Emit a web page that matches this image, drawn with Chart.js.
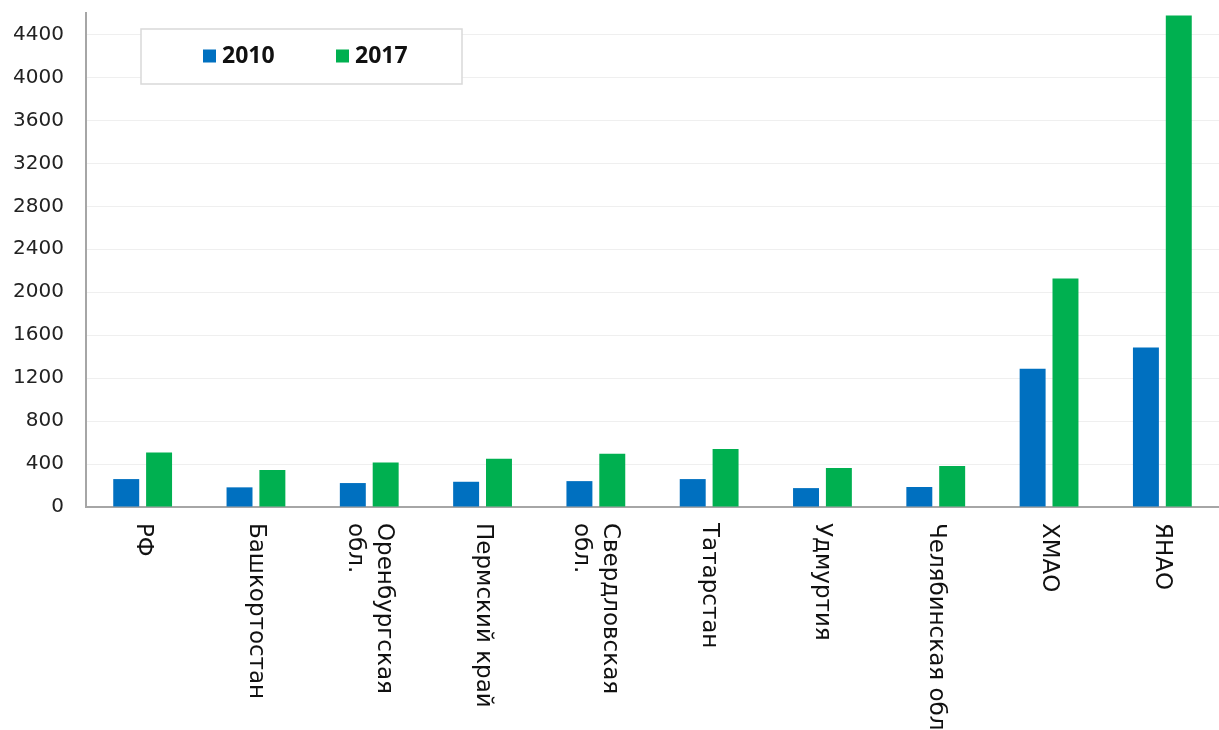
<!DOCTYPE html>
<html>
<head>
<meta charset="utf-8">
<script src="https://cdn.jsdelivr.net/npm/chart.js@4"></script>
<style>
  body { margin: 0; background: #fff; }
  #wrap { width: 1219px; height: 730px; position: relative; }
</style>
</head>
<body>
<div id="wrap"><canvas id="grafico"></canvas></div>
<script>
const categories = ['РФ', 'Башкортостан', ['Оренбургская', 'обл.'], 'Пермский край', ['Свердловская', 'обл.'], 'Татарстан', 'Удмуртия', 'Челябинская обл.', 'ХМАО', 'ЯНАО'];
const seriesNames = ['2010', '2017'];
const values2010 = [260, 183, 223, 235, 241, 260, 176, 186, 1288, 1486];
const values2017 = [508, 344, 415, 449, 495, 539, 362, 381, 2127, 4577];
const yTicks = [0, 400, 800, 1200, 1600, 2000, 2400, 2800, 3200, 3600, 4000, 4400];
const yMax = 4600;

const colors = ['#0070C0', '#00B050'];

// x labels are rotated clockwise (read top to bottom), so draw them by hand
const rotatedLabels = {
  id: 'rotatedLabels',
  afterDraw(chart) {
    const ctx = chart.ctx;
    const xs = chart.scales.x;
    const top = chart.chartArea.bottom + 16;
    const lh = 29;
    ctx.save();
    ctx.font = '23px "DejaVu Sans", sans-serif';
    ctx.fillStyle = '#111';
    ctx.textAlign = 'left';
    ctx.textBaseline = 'middle';
    categories.forEach((lab, i) => {
      const lines = Array.isArray(lab) ? lab : [lab];
      const x = xs.getPixelForValue(i);
      ctx.save();
      ctx.translate(x, top);
      ctx.rotate(Math.PI / 2);
      lines.forEach((ln, j) => {
        ctx.fillText(ln, 0, (j - (lines.length - 1) / 2) * lh);
      });
      ctx.restore();
    });
    ctx.restore();
  }
};

// boxed legend inside the plot
const boxLegend = {
  id: 'boxLegend',
  afterDraw(chart) {
    const ctx = chart.ctx;
    const a = chart.chartArea;
    const bx = a.left + 55, by = a.top + 16, bw = 321, bh = 55;
    ctx.save();
    ctx.fillStyle = '#fff';
    ctx.fillRect(bx, by, bw, bh);
    ctx.strokeStyle = '#d9d9d9';
    ctx.lineWidth = 1.5;
    ctx.strokeRect(bx, by, bw, bh);
    ctx.font = 'bold 23px "Open Sans", "DejaVu Sans", sans-serif';
    ctx.textBaseline = 'middle';
    const cy = by + bh / 2;
    const starts = [bx + 62, bx + 195];
    chart.data.datasets.forEach((ds, i) => {
      ctx.fillStyle = ds.backgroundColor;
      ctx.fillRect(starts[i], cy - 7, 13, 13);
      ctx.fillStyle = '#111';
      ctx.fillText(ds.label, starts[i] + 19, cy);
    });
    ctx.restore();
  }
};

new Chart(document.getElementById('grafico'), {
  type: 'bar',
  data: {
    labels: categories,
    datasets: [
      { label: seriesNames[0], data: values2010, backgroundColor: colors[0], borderWidth: 0 },
      { label: seriesNames[1], data: values2017, backgroundColor: colors[1], borderWidth: 0 }
    ]
  },
  options: {
    responsive: true,
    maintainAspectRatio: false,
    animation: false,
    layout: { padding: { left: 10, right: 0, top: 13, bottom: 223 } },
    datasets: {
      bar: { categoryPercentage: 0.58, barPercentage: 0.79 }
    },
    plugins: {
      legend: { display: false },
      tooltip: { enabled: false }
    },
    scales: {
      x: {
        grid: { display: false, drawTicks: false },
        border: { display: true, color: '#a6a6a6', width: 2 },
        ticks: { display: false }
      },
      y: {
        min: 0,
        max: yMax,
        afterBuildTicks(axis) {
          axis.ticks = yTicks.map(v => ({ value: v }));
        },
        afterFit(axis) {
          axis.width = 76;
          axis.paddingTop = 0;
          axis.paddingBottom = 0;
        },
        ticks: {
          padding: 22,
          color: '#222',
          font: { family: '"DejaVu Sans", sans-serif', size: 20 },
          callback: v => String(v)
        },
        grid: { color: '#efefef', lineWidth: 1, drawTicks: false },
        border: { display: true, color: '#a6a6a6', width: 2 }
      }
    }
  },
  plugins: [rotatedLabels, boxLegend]
});
</script>
</body>
</html>
